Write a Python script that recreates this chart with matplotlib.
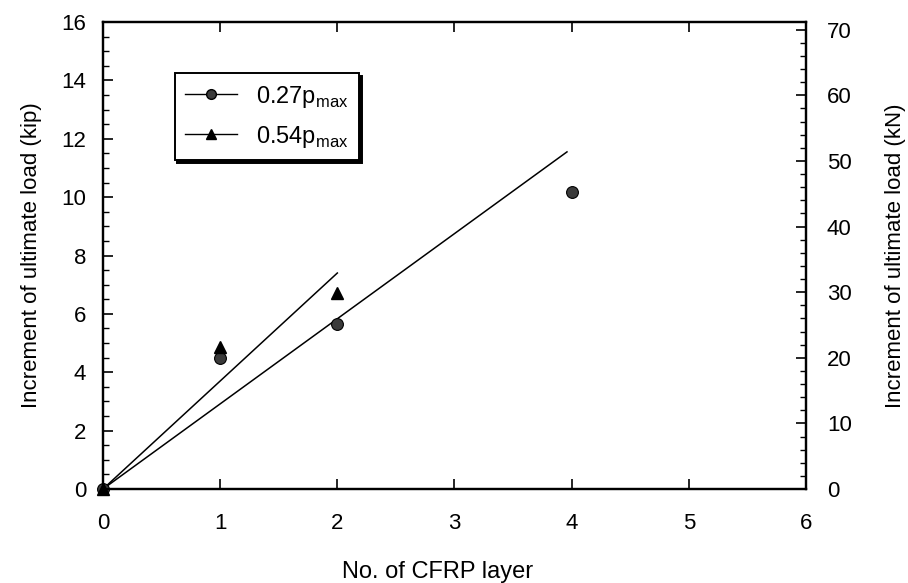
import matplotlib
matplotlib.use("Agg")
import matplotlib.pyplot as plt
from matplotlib.lines import Line2D
from matplotlib.ticker import MultipleLocator

plt.rcParams['font.family'] = ['Liberation Sans', 'DejaVu Sans']
plt.rcParams['mathtext.fontset'] = 'custom'
plt.rcParams['mathtext.rm'] = 'Liberation Sans'

# Data (kip)
layers_027 = [0, 1, 2, 4]
load_027 = [0, 4.5, 5.67, 10.17]
layers_054 = [0, 1, 2]
load_054 = [0, 4.85, 6.7]
# Fitted lines (start/end)
fit027_x = [0, 3.96]
fit027_y = [0, 11.55]
fit054_x = [0, 2.0]
fit054_y = [0, 7.4]

kip_to_kN = 4.448

fig = plt.figure(figsize=(9.08, 5.83), dpi=100)
ax = fig.add_axes([103/908, 1-489/583, (806-103)/908, (489-22)/583])

ax.plot(fit027_x, fit027_y, color='black', lw=1.1)
ax.plot(fit054_x, fit054_y, color='black', lw=1.1)
ax.plot(layers_027, load_027, linestyle='none', marker='o', ms=8.5,
        mfc='#3a3a3a', mec='black', mew=0.8, clip_on=False, zorder=5)
ax.plot(layers_054, load_054, linestyle='none', marker='^', ms=8.5,
        mfc='black', mec='black', clip_on=False, zorder=5)

ax.set_xlim(0, 6)
ax.set_ylim(0, 16)
ax.xaxis.set_major_locator(MultipleLocator(1))
ax.yaxis.set_major_locator(MultipleLocator(2))
ax.yaxis.set_minor_locator(MultipleLocator(0.5))
ax.tick_params(axis='x', which='both', direction='in', top=True, bottom=True,
               length=7, width=1.2, pad=17, labelsize=16)
ax.tick_params(axis='y', which='major', direction='in', left=True, right=False,
               length=7, width=1.2, pad=12, labelsize=16)
ax.tick_params(axis='y', which='minor', direction='in', left=True, right=False,
               length=4, width=1.0)
for s in ax.spines.values():
    s.set_linewidth(1.6)

ax.set_xlabel('No. of CFRP layer', fontsize=17, labelpad=20)
ax.xaxis.set_label_coords(0.476, -0.155)
ax.set_ylabel('Increment of ultimate load (kip)', fontsize=16, labelpad=14)

ax2 = ax.twinx()
ax2.set_ylim(0, 16*kip_to_kN)
ax2.yaxis.set_major_locator(MultipleLocator(10))
ax2.yaxis.set_minor_locator(MultipleLocator(2))
ax2.tick_params(axis='y', which='major', direction='in', length=7, width=1.2,
                pad=15, labelsize=16)
ax2.tick_params(axis='y', which='minor', direction='in', length=4, width=1.0)
ax2.set_ylabel('Increment of ultimate load (kN)', fontsize=16, labelpad=24)
for s in ax2.spines.values():
    s.set_linewidth(1.6)

handles = [
    Line2D([], [], color='black', lw=1.0, marker='o', ms=7, mfc='#3a3a3a', mec='black'),
    Line2D([], [], color='black', lw=1.0, marker='^', ms=7, mfc='black', mec='black'),
]
labels = [r'0.27p$_{\mathrm{max}}$', r'0.54p$_{\mathrm{max}}$']
leg = ax.legend(handles, labels, loc='upper left', bbox_to_anchor=(0.102, 0.891),
                fontsize=17, frameon=True, fancybox=False, edgecolor='black',
                framealpha=1, shadow={'color': 'black', 'alpha': 1},
                handlelength=2.2, handletextpad=0.8, borderpad=0.45,
                labelspacing=0.6, borderaxespad=0)
leg.get_frame().set_linewidth(1.4)

fig.savefig('out.png', dpi=100)
